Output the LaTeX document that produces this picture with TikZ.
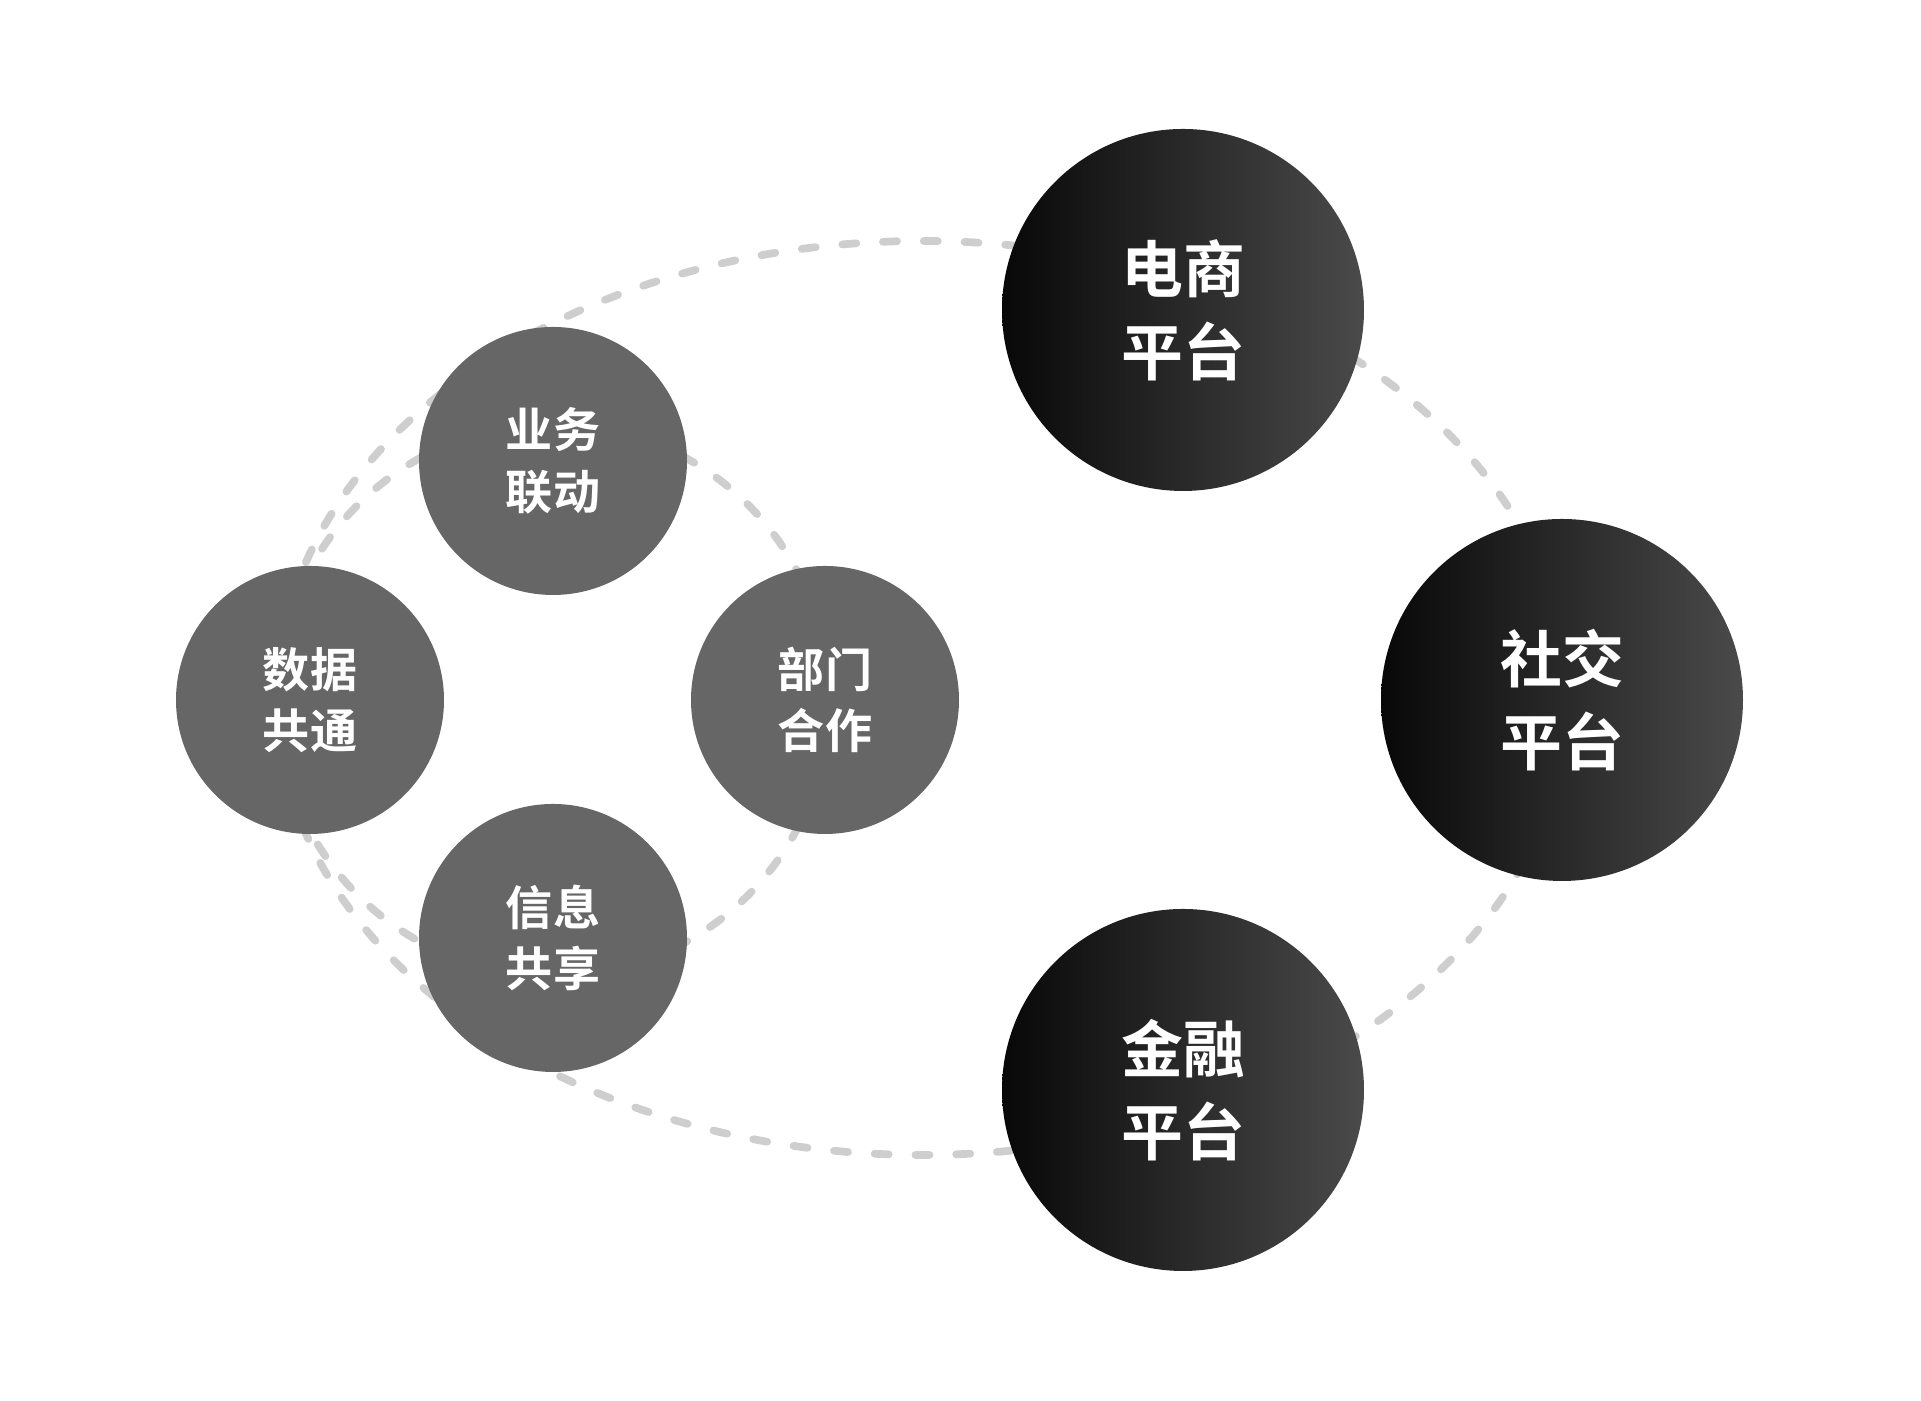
\documentclass[tikz,border=0pt]{standalone}
\usepackage{fontspec}
\newfontfamily\cjk{Noto Sans CJK SC}[BoldFont={Noto Sans CJK SC Bold}]
\usetikzlibrary{positioning, backgrounds}
\definecolor{ringdash}{RGB}{206, 206, 206}
\definecolor{smallfill}{RGB}{102, 102, 102}
\definecolor{bigleft}{RGB}{8, 8, 8}
\definecolor{bigright}{RGB}{74, 74, 74}

\begin{document}
\begin{tikzpicture}[
    font=\cjk\bfseries,
    % 左侧四个内部圆 (灰色)
    smallnode/.style={circle, fill=smallfill, minimum size=2.68cm, inner sep=0pt, align=center, text=white, font=\cjk\bfseries\fontsize{13.4}{17.5}\selectfont},
    % 右侧三个平台圆 (黑灰渐变)
    bignode/.style={circle, left color=bigleft, right color=bigright, minimum size=3.62cm, inner sep=0pt, align=center, text=white, font=\cjk\bfseries\fontsize{17.6}{23.7}\selectfont},
    dashring/.style={draw=ringdash, line width=2.2pt, line cap=round, dash pattern=on 4pt off 7.6pt}
]

\useasboundingbox (0, 0) rectangle (19.21, 14.01);

% ==========================================
% 1. 环形中心
% ==========================================
\coordinate (inner_c) at (5.53, 7.01);
\coordinate (outer_c) at (9.22, 7.03);

% ==========================================
% 2. 内部四个圆
% ==========================================
\node[smallnode] (yewu)  at (5.53, 9.40) {业务\\联动};
\node[smallnode] (shuju) at (3.10, 7.01) {数据\\共通};
\node[smallnode] (bumen) at (8.25, 7.01) {部门\\合作};
\node[smallnode] (xinxi) at (5.53, 4.63) {信息\\共享};

% ==========================================
% 3. 右侧三个平台
% ==========================================
\node[bignode] (dianshang) at (11.83, 10.91) {电商\\平台};
\node[bignode] (shejiao)   at (15.62, 7.01)  {社交\\平台};
\node[bignode] (jinrong)   at (11.83, 3.11)  {金融\\平台};

% ==========================================
% 4. 虚线环 (置于底层)
% ==========================================
\begin{scope}[on background layer]
    \draw[dashring] (inner_c) circle[radius=2.76];
    \draw[dashring] (outer_c) ellipse[x radius=6.45, y radius=4.57];
\end{scope}

\end{tikzpicture}
\end{document}
